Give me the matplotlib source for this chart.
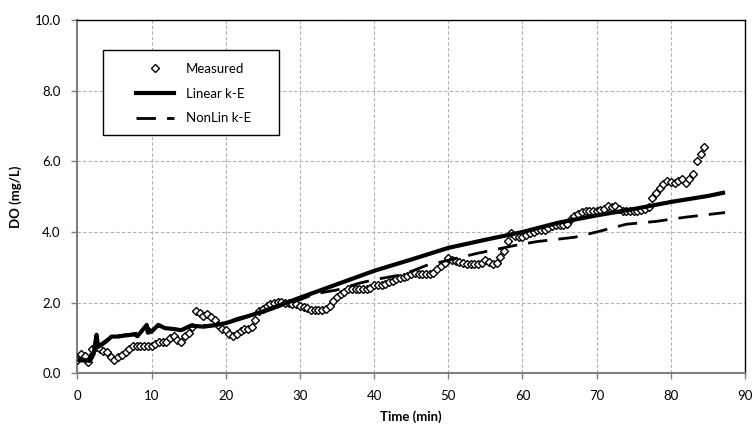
import numpy as np
import matplotlib
matplotlib.use('Agg')
import matplotlib.pyplot as plt
from matplotlib.patches import Rectangle
from matplotlib.lines import Line2D

plt.rcParams['font.family'] = ['Lato', 'DejaVu Sans']

# ---------- 数据 ----------
# 实测 DO，每 0.5 min 一个点（0 ~ 84.5 min）
meas_t = np.arange(0, 85, 0.5)
meas_do = [0.38, 0.55, 0.50, 0.33, 0.70, 0.75, 0.70, 0.62, 0.60, 0.45,
           0.39, 0.45, 0.52, 0.60, 0.70, 0.78, 0.78, 0.78, 0.78, 0.78,
           0.78, 0.82, 0.88, 0.90, 0.90, 1.00, 1.05, 0.95, 0.90, 1.05,
           1.15, 1.30, 1.75, 1.70, 1.62, 1.68, 1.60, 1.50, 1.38, 1.25,
           1.22, 1.10, 1.05, 1.12, 1.20, 1.25, 1.25, 1.32, 1.50, 1.75,
           1.82, 1.90, 1.97, 2.00, 2.02, 2.02, 2.00, 1.98, 1.97, 1.95,
           1.90, 1.87, 1.84, 1.80, 1.78, 1.78, 1.78, 1.82, 1.90, 2.05,
           2.15, 2.25, 2.30, 2.38, 2.40, 2.40, 2.40, 2.40, 2.40, 2.42,
           2.50, 2.50, 2.50, 2.52, 2.58, 2.62, 2.68, 2.70, 2.72, 2.75,
           2.82, 2.85, 2.80, 2.80, 2.80, 2.82, 2.85, 2.95, 3.05, 3.12,
           3.25, 3.20, 3.18, 3.15, 3.12, 3.10, 3.10, 3.10, 3.10, 3.12,
           3.20, 3.15, 3.10, 3.12, 3.30, 3.45, 3.75, 3.97, 3.90, 3.87,
           3.87, 3.92, 3.97, 4.00, 4.05, 4.06, 4.06, 4.10, 4.18, 4.20,
           4.20, 4.20, 4.22, 4.38, 4.45, 4.52, 4.58, 4.60, 4.60, 4.60,
           4.60, 4.62, 4.65, 4.73, 4.70, 4.73, 4.65, 4.60, 4.60, 4.60,
           4.60, 4.60, 4.62, 4.65, 4.72, 4.95, 5.10, 5.25, 5.35, 5.45,
           5.42, 5.40, 5.45, 5.50, 5.40, 5.50, 5.63, 6.00, 6.20, 6.40]

# Linear k-E 模拟
lin_t = [0, 1, 1.7, 2.2, 2.6, 2.8, 3.2, 4.0, 4.6, 5.5, 6.4, 7.7, 8.1, 8.7,
         9.35, 9.5, 10.0, 10.9, 11.8, 13.1, 14.0, 15.3, 17.0, 18.5, 20, 22,
         25, 30, 35, 40, 45, 50, 55, 60, 65, 70, 75, 80, 85, 87.3]
lin_do = [0.38, 0.37, 0.35, 0.55, 1.09, 0.75, 0.80, 0.92, 1.04, 1.04, 1.07,
          1.10, 1.05, 1.20, 1.37, 1.15, 1.18, 1.37, 1.28, 1.25, 1.22, 1.35,
          1.32, 1.36, 1.42, 1.55, 1.75, 2.14, 2.52, 2.90, 3.22, 3.55, 3.78,
          4.00, 4.27, 4.47, 4.65, 4.85, 5.02, 5.12]

# NonLin k-E 模拟
nl_t = [0, 1.5, 2.5, 3, 4, 5, 7, 8.5, 9.5, 10, 11, 12, 14, 15.5, 17, 19,
        20, 22, 25, 28, 30, 32, 35, 38, 40, 44, 47, 50, 54, 59, 62, 67,
        70, 74, 78, 82, 87.3]
nl_do = [0.35, 0.35, 0.95, 0.80, 0.95, 1.05, 1.10, 1.15, 1.30, 1.20, 1.35,
         1.28, 1.22, 1.35, 1.35, 1.38, 1.45, 1.58, 1.72, 1.95, 2.08, 2.25,
         2.36, 2.55, 2.65, 2.80, 3.05, 3.20, 3.40, 3.62, 3.73, 3.85, 4.00,
         4.22, 4.30, 4.42, 4.55]

# ---------- 作图 ----------
fig = plt.figure(figsize=(7.52, 4.26), dpi=100)
ax = fig.add_axes([0.1028, 0.1237, 0.888, 0.8293])

ax.plot(meas_t, meas_do, linestyle='none', marker='D', markersize=4.4,
        markerfacecolor='white', markeredgecolor='black', markeredgewidth=1.0,
        zorder=3)
ax.plot(lin_t, lin_do, color='black', linewidth=3.0, solid_capstyle='butt',
        zorder=4)
ax.plot(nl_t, nl_do, color='black', linewidth=2.0, dashes=(7, 4), zorder=4)

ax.set_xlim(0, 90)
ax.set_ylim(0, 10)
ax.set_xticks(range(0, 91, 10))
ax.set_yticks(np.arange(0, 10.1, 2))
ax.set_yticklabels([f'{v:.1f}' for v in np.arange(0, 10.1, 2)])
ax.tick_params(direction='out', length=4, width=1, labelsize=9.5,
               color='#808080')
ax.tick_params(axis='x', pad=8)
ax.tick_params(axis='y', pad=8)

ax.grid(True, linestyle=(0, (3, 2)), color='#b0b0b0', linewidth=0.8)
ax.set_axisbelow(True)

for side in ['left', 'bottom']:
    ax.spines[side].set_color('#808080')
    ax.spines[side].set_linewidth(1.5)
for side in ['top', 'right']:
    ax.spines[side].set_color('black')
    ax.spines[side].set_linewidth(1.0)

ax.set_xlabel('Time (min)', fontsize=9.5, fontweight='bold', labelpad=6)
ax.set_ylabel('DO (mg/L)', fontsize=9.5, fontweight='bold', labelpad=9)

# 图例（手动画框）
ax.add_patch(Rectangle((0.0385, 0.674), 0.2635, 0.241, transform=ax.transAxes,
                       facecolor='white', edgecolor='black', linewidth=1.0,
                       zorder=5))
handles = [
    Line2D([], [], linestyle='none', marker='D', markersize=4.4,
           markerfacecolor='white', markeredgecolor='black', markeredgewidth=1.0),
    Line2D([], [], color='black', linewidth=3.0),
    Line2D([], [], color='black', linewidth=2.0, dashes=(7, 4)),
]
leg = ax.legend(handles, ['Measured', 'Linear k-E', 'NonLin k-E'],
                loc='upper left', bbox_to_anchor=(0.072, 0.908),
                frameon=False, fontsize=9.5, handlelength=2.9,
                handletextpad=0.9, labelspacing=0.95, borderpad=0.3)
leg.set_zorder(6)

plt.savefig('out.png', dpi=100)
